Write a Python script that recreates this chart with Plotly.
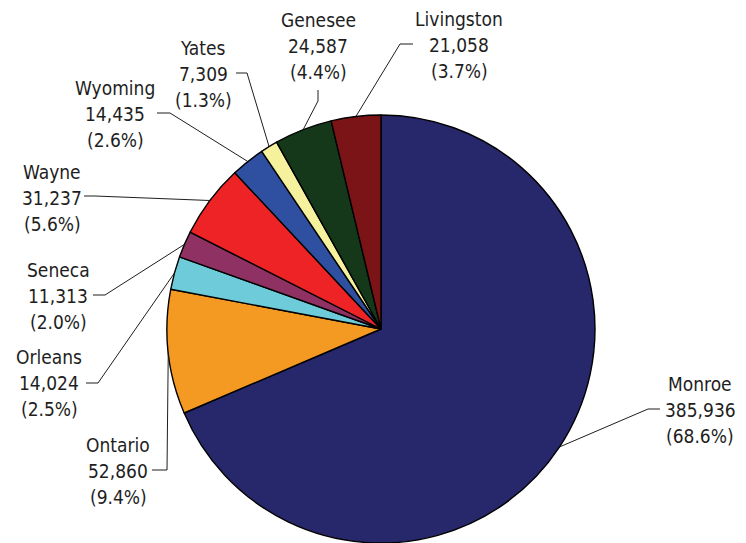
import math
import plotly.graph_objects as go

# County values, listed clockwise from 12 o'clock
counties = ["Monroe", "Ontario", "Orleans", "Seneca", "Wayne",
            "Wyoming", "Yates", "Genesee", "Livingston"]
values = [385936, 52860, 14024, 11313, 31237, 14435, 7309, 24587, 21058]
colors = ["#27276B", "#F49A22", "#6ECCDA", "#8F3162", "#EE2326",
          "#2F4FA1", "#F6F19C", "#15381A", "#7A1417"]

# Page and pie geometry in pixels (origin top-left)
W, H = 746, 543
CX, CY, R = 381, 329, 214

# Label placement: text centre x, middle-line y, elbow point, leader end point
label_pos = {
    "Monroe":     dict(tx=700, ty=410, elbow=(648, 409), end=(660, 409)),
    "Ontario":    dict(tx=118, ty=471, elbow=(167, 470), end=(152, 470)),
    "Orleans":    dict(tx=49,  ty=383, elbow=(98, 383),  end=(86, 383)),
    "Seneca":     dict(tx=58,  ty=296, elbow=(105, 295), end=(93, 295)),
    "Wayne":      dict(tx=52,  ty=198, elbow=(95, 196),  end=(84, 196)),
    "Wyoming":    dict(tx=115, ty=114, elbow=(170, 113), end=(157, 113)),
    "Yates":      dict(tx=203, ty=74,  elbow=(247, 73),  end=(236, 73)),
    "Genesee":    dict(tx=318, ty=46,  elbow=(318, 101), end=(318, 90)),
    "Livingston": dict(tx=459, ty=45,  elbow=(400, 44),  end=(413, 44)),
}

FONT = dict(family="DejaVu Sans Condensed, DejaVu Sans, sans-serif",
            size=19, color="#1E1E1E")
LINE_GAP = 26


def px(x):
    return x / W


def py(y):
    return 1 - y / H


fig = go.Figure(go.Pie(
    labels=counties,
    values=values,
    sort=False,
    direction="clockwise",
    rotation=0,
    marker=dict(colors=colors, line=dict(color="#000000", width=1.4)),
    textinfo="none",
    hoverinfo="label+value+percent",
    showlegend=False,
    domain=dict(x=[px(CX - R), px(CX + R)], y=[0, py(CY - R)]),
))

total = sum(values)
annotations = []
shapes = []
cum = 0.0
for name, val in zip(counties, values):
    frac = val / total
    mid = cum + frac / 2
    cum += frac
    ang = 2 * math.pi * mid
    ex, ey = CX + R * math.sin(ang), CY - R * math.cos(ang)

    p = label_pos[name]
    bx, by = p["elbow"]
    lx, ly = p["end"]
    shapes.append(dict(
        type="path", xref="paper", yref="paper",
        path=f"M {px(ex)},{py(ey)} L {px(bx)},{py(by)} L {px(lx)},{py(ly)}",
        line=dict(color="#1E1E1E", width=1),
    ))

    lines = [name, f"{val:,}", f"({frac * 100:.1f}%)"]
    for i, txt in enumerate(lines):
        annotations.append(dict(
            text=txt, x=px(p["tx"]), y=py(p["ty"] + (i - 1) * LINE_GAP),
            xref="paper", yref="paper", xanchor="center", yanchor="middle",
            showarrow=False, font=FONT,
        ))

fig.update_layout(
    width=W, height=H,
    margin=dict(l=0, r=0, t=0, b=0),
    paper_bgcolor="white",
    plot_bgcolor="white",
    shapes=shapes,
    annotations=annotations,
)

fig.write_html("out.html")
